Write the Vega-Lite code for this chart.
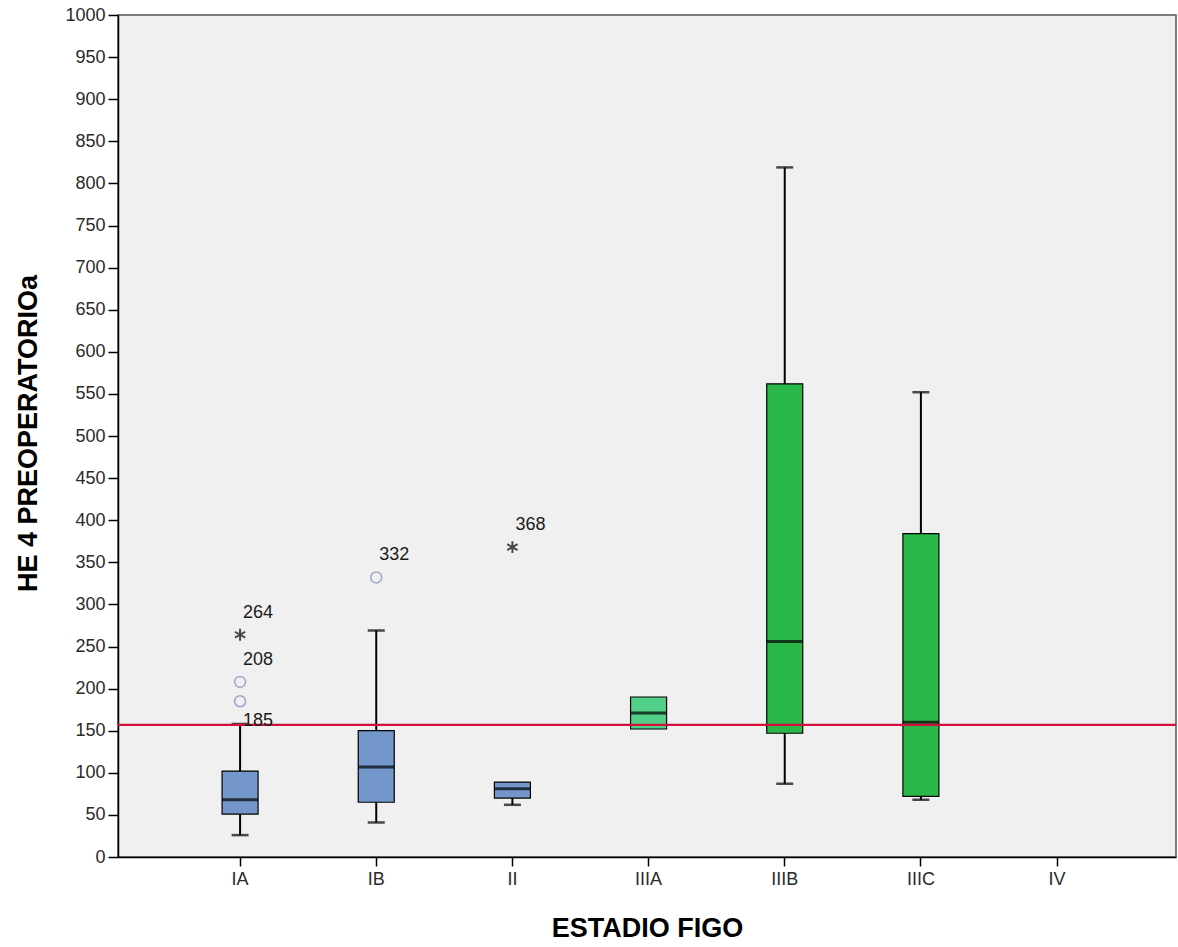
{
  "$schema": "https://vega.github.io/schema/vega-lite/v6.json",
  "width": 1058,
  "height": 842,
  "autosize": {"type": "none"},
  "padding": {"left": 118, "top": 15, "right": 2, "bottom": 90},
  "background": "white",
  "config": {
    "font": "Liberation Sans",
    "view": {"fill": "#F0F0F0", "stroke": "#555555", "strokeWidth": 1.5}
  },
  "datasets": {
    "boxes": [
      {"stage": "IA", "lower": 26, "q1": 51, "median": 68, "q3": 102, "upper": 158},
      {"stage": "IB", "lower": 41, "q1": 65, "median": 107, "q3": 150, "upper": 269},
      {"stage": "II", "lower": 62, "q1": 70, "median": 81, "q3": 89, "upper": 89},
      {"stage": "IIIA", "lower": 152, "q1": 152, "median": 171, "q3": 190, "upper": 190},
      {"stage": "IIIB", "lower": 87, "q1": 147, "median": 256, "q3": 562, "upper": 819},
      {"stage": "IIIC", "lower": 68, "q1": 72, "median": 160, "q3": 384, "upper": 552}
    ],
    "outliers": [
      {"stage": "IA", "value": 264, "kind": "star", "label": "264"},
      {"stage": "IA", "value": 208, "kind": "circle", "label": "208"},
      {"stage": "IA", "value": 185, "kind": "circle", "label": "185"},
      {"stage": "IB", "value": 332, "kind": "circle", "label": "332"},
      {"stage": "II", "value": 368, "kind": "star", "label": "368"}
    ],
    "cutoff": [{"ref": 157}]
  },
  "resolve": {"scale": {"x": "shared", "y": "shared"}},
  "layer": [
    {
      "data": {"name": "boxes"},
      "mark": {"type": "rule", "color": "black", "strokeWidth": 2},
      "encoding": {
        "x": {
          "field": "stage",
          "type": "nominal",
          "scale": {
            "type": "band",
            "domain": ["IA", "IB", "II", "IIIA", "IIIB", "IIIC", "IV"],
            "paddingInner": 0,
            "paddingOuter": 0.385,
            "align": 0.515
          },
          "axis": {
            "title": "ESTADIO FIGO",
            "labelAngle": 0,
            "bandPosition": 0.5,
            "labelFontSize": 18,
            "labelColor": "#2a2a2a",
            "labelPadding": 4,
            "tickSize": 9,
            "tickColor": "black",
            "tickWidth": 1.5,
            "domainColor": "black",
            "domainWidth": 1.5,
            "grid": false,
            "titleFontSize": 27,
            "titleFontWeight": "bold",
            "titleColor": "black",
            "titleX": 529,
            "titleY": 71,
            "titleBaseline": "middle",
            "titleAlign": "center"
          }
        },
        "y": {
          "field": "lower",
          "type": "quantitative",
          "scale": {"domain": [0, 1000], "nice": false, "zero": true},
          "axis": {
            "title": "HE 4 PREOPERATORIOa",
            "format": "d",
            "values": [0, 50, 100, 150, 200, 250, 300, 350, 400, 450, 500, 550, 600, 650, 700, 750, 800, 850, 900, 950, 1000],
            "labelFontSize": 18,
            "labelColor": "#2a2a2a",
            "labelPadding": 3,
            "tickSize": 10,
            "tickColor": "black",
            "tickWidth": 1.5,
            "domainColor": "black",
            "domainWidth": 1.5,
            "grid": false,
            "titleFontSize": 27,
            "titleFontWeight": "bold",
            "titleColor": "black",
            "titleX": -90,
            "titleY": 418,
            "titleAngle": 270,
            "titleBaseline": "middle",
            "titleAlign": "center"
          }
        },
        "y2": {"field": "upper"}
      }
    },
    {
      "data": {"name": "boxes"},
      "transform": [{"filter": "datum.lower < datum.q1"}],
      "mark": {"type": "tick", "size": 17, "thickness": 2.5, "color": "black"},
      "encoding": {
        "x": {"field": "stage", "type": "nominal"},
        "y": {"field": "lower", "type": "quantitative"}
      }
    },
    {
      "data": {"name": "boxes"},
      "transform": [{"filter": "datum.upper > datum.q3"}],
      "mark": {"type": "tick", "size": 17, "thickness": 2.5, "color": "black"},
      "encoding": {
        "x": {"field": "stage", "type": "nominal"},
        "y": {"field": "upper", "type": "quantitative"}
      }
    },
    {
      "data": {"name": "boxes"},
      "mark": {"type": "bar", "size": 36, "stroke": "black", "strokeWidth": 1.2, "opacity": 1},
      "encoding": {
        "x": {"field": "stage", "type": "nominal"},
        "y": {"field": "q1", "type": "quantitative"},
        "y2": {"field": "q3"},
        "fill": {
          "field": "stage",
          "type": "nominal",
          "legend": null,
          "scale": {
            "domain": ["IA", "IB", "II", "IIIA", "IIIB", "IIIC"],
            "range": ["#7397CB", "#7397CB", "#7397CB", "#52D08A", "#2BB84A", "#2BB84A"]
          }
        }
      }
    },
    {
      "data": {"name": "boxes"},
      "mark": {"type": "tick", "size": 36, "thickness": 3, "color": "black"},
      "encoding": {
        "x": {"field": "stage", "type": "nominal"},
        "y": {"field": "median", "type": "quantitative"}
      }
    },
    {
      "data": {"name": "cutoff"},
      "mark": {"type": "rule", "color": "#D0103A", "strokeWidth": 2.2},
      "encoding": {
        "y": {"field": "ref", "type": "quantitative"}
      }
    },
    {
      "data": {"name": "outliers"},
      "transform": [{"filter": "datum.kind === 'circle'"}],
      "mark": {"type": "point", "shape": "circle", "filled": false, "stroke": "#7C86B8", "strokeWidth": 1.5, "size": 120},
      "encoding": {
        "x": {"field": "stage", "type": "nominal"},
        "y": {"field": "value", "type": "quantitative"}
      }
    },
    {
      "data": {"name": "outliers"},
      "transform": [{"filter": "datum.kind === 'star'"}],
      "mark": {
        "type": "point",
        "shape": "M0,-1L0,1M-0.87,-0.5L0.87,0.5M-0.87,0.5L0.87,-0.5",
        "filled": false,
        "stroke": "black",
        "strokeWidth": 2,
        "size": 140
      },
      "encoding": {
        "x": {"field": "stage", "type": "nominal"},
        "y": {"field": "value", "type": "quantitative"}
      }
    },
    {
      "data": {"name": "outliers"},
      "transform": [{"filter": "datum.label !== '185'"}],
      "mark": {"type": "text", "align": "left", "baseline": "middle", "dx": 3, "dy": -22, "fontSize": 18, "color": "#1a1a1a"},
      "encoding": {
        "x": {"field": "stage", "type": "nominal"},
        "y": {"field": "value", "type": "quantitative"},
        "text": {"field": "label"}
      }
    },
    {
      "data": {"name": "outliers"},
      "transform": [{"filter": "datum.label === '185'"}],
      "mark": {"type": "text", "align": "left", "baseline": "middle", "dx": 3, "dy": 20, "fontSize": 18, "color": "#1a1a1a"},
      "encoding": {
        "x": {"field": "stage", "type": "nominal"},
        "y": {"field": "value", "type": "quantitative"},
        "text": {"field": "label"}
      }
    }
  ]
}
